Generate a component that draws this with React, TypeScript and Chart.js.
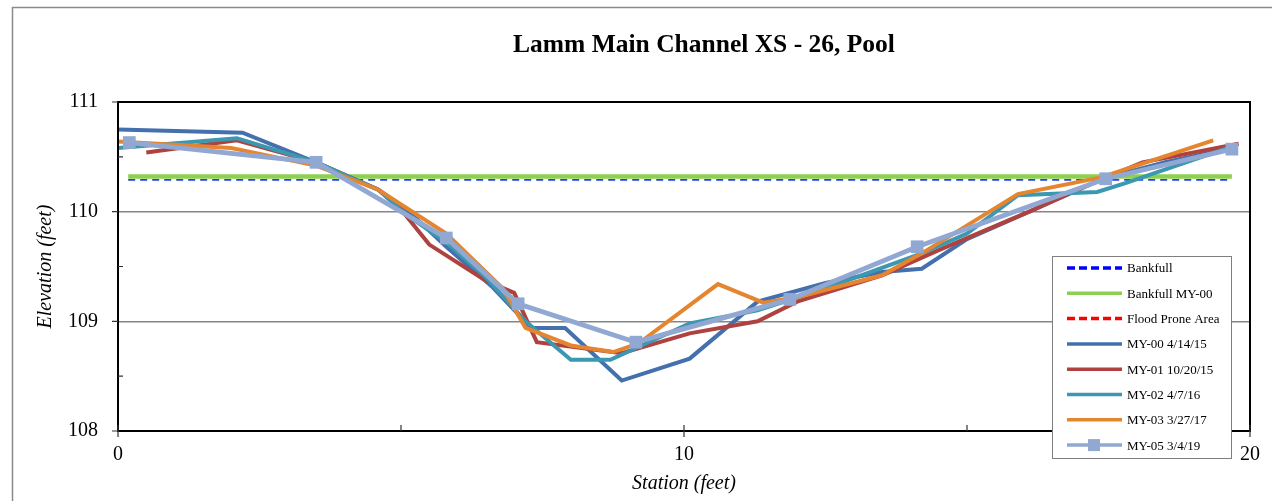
import React, { useEffect, useRef } from "react";
import { Chart, registerables } from "chart.js";

Chart.register(...registerables);

const chartTitle = "Lamm Main Channel XS - 26, Pool";
const xAxisTitle = "Station (feet)";
const yAxisTitle = "Elevation (feet)";
const xTickValues = [0, 10, 20];
const yTickValues = [108, 109, 110, 111];
const xMinorTicks = [5, 15];
const yMinorTicks = [108.5, 109.5, 110.5];

const seriesNames = [
  "Bankfull",
  "Bankfull MY-00",
  "Flood Prone Area",
  "MY-00 4/14/15",
  "MY-01 10/20/15",
  "MY-02 4/7/16",
  "MY-03 3/27/17",
  "MY-05 3/4/19",
];

const bankfullStation = [0.18, 19.68];
const bankfullElev = [110.29, 110.29];

const bankfullMy00Station = [0.18, 19.68];
const bankfullMy00Elev = [110.32, 110.32];

const floodStation: number[] = [];
const floodElev: number[] = [];

const my00Station = [0, 2.2, 3.5, 4.6, 5.1, 5.8, 6.6, 7.3, 7.9, 8.9, 10.1, 11.3, 12.5, 13.5, 14.2, 15.0, 16.1, 17.4, 18.5, 19.7];
const my00Elev = [110.75, 110.72, 110.45, 110.2, 110.02, 109.68, 109.32, 108.94, 108.94, 108.46, 108.66, 109.18, 109.35, 109.45, 109.48, 109.75, 110.0, 110.3, 110.45, 110.58];

const my01Station = [0.5, 2.1, 3.5, 4.6, 5.0, 5.5, 6.5, 7.0, 7.4, 8.9, 10.1, 11.3, 12.0, 13.5, 14.5, 16.1, 17.4, 18.1, 19.8];
const my01Elev = [110.54, 110.65, 110.45, 110.2, 110.02, 109.7, 109.37, 109.26, 108.81, 108.71, 108.89, 109.0, 109.18, 109.42, 109.65, 110.0, 110.3, 110.45, 110.62];

const my02Station = [0, 2.1, 3.5, 4.6, 5.1, 5.8, 6.5, 7.2, 8.0, 8.7, 10.1, 11.3, 12.5, 14.2, 15.0, 15.9, 17.3, 17.8, 19.6];
const my02Elev = [110.58, 110.67, 110.45, 110.2, 109.97, 109.72, 109.4, 109.0, 108.65, 108.65, 108.98, 109.1, 109.3, 109.62, 109.8, 110.15, 110.18, 110.26, 110.58];

const my03Station = [0, 2.0, 3.5, 4.6, 5.8, 6.8, 7.2, 8.0, 8.75, 9.2, 10.6, 11.4, 12.0, 13.5, 14.2, 15.9, 17.35, 19.35];
const my03Elev = [110.64, 110.58, 110.42, 110.2, 109.8, 109.3, 108.94, 108.78, 108.72, 108.8, 109.34, 109.17, 109.22, 109.42, 109.62, 110.16, 110.31, 110.65];

const my05Station = [0.2, 3.5, 5.8, 7.07, 9.15, 11.87, 14.12, 17.45, 19.68];
const my05Elev = [110.63, 110.45, 109.76, 109.16, 108.81, 109.2, 109.68, 110.3, 110.57];

const seriesColors = ["#2342EE", "#8DD04F", "#FF0000", "#4470AD", "#AF423F", "#3B98B0", "#E5852F", "#91A8D3"];
const seriesWidths = [1.8, 4.5, 2, 4, 4, 4, 4, 4.8];
const seriesDashes: number[][] = [[7, 5], [], [7, 5], [], [], [], [], []];

const FONT = '"Liberation Serif", "Times New Roman", Times, serif';

function toPoints(xs: number[], ys: number[]) {
  return xs.map((x, i) => ({ x, y: ys[i] }));
}

const seriesData = [
  toPoints(bankfullStation, bankfullElev),
  toPoints(bankfullMy00Station, bankfullMy00Elev),
  toPoints(floodStation, floodElev),
  toPoints(my00Station, my00Elev),
  toPoints(my01Station, my01Elev),
  toPoints(my02Station, my02Elev),
  toPoints(my03Station, my03Elev),
  toPoints(my05Station, my05Elev),
];

const decorPlugin = {
  id: "decor",
  beforeDraw(chart: any) {
    const { ctx, width, height } = chart;
    ctx.save();
    ctx.fillStyle = "#ffffff";
    ctx.fillRect(0, 0, width, height);
    ctx.strokeStyle = "#8a8a8a";
    ctx.lineWidth = 1.5;
    ctx.strokeRect(12.5, 7.5, width + 40, height + 40);
    ctx.restore();
  },
  afterDraw(chart: any) {
    const { ctx, chartArea } = chart;
    const xs = chart.scales.x;
    const ys = chart.scales.y;
    ctx.save();
    ctx.strokeStyle = "#000000";
    ctx.lineWidth = 2;
    ctx.strokeRect(chartArea.left, chartArea.top, chartArea.right - chartArea.left, chartArea.bottom - chartArea.top);
    ctx.lineWidth = 1.2;
    ctx.strokeStyle = "#333333";
    ctx.beginPath();
    yTickValues.forEach((v) => {
      const py = ys.getPixelForValue(v);
      ctx.moveTo(chartArea.left - 6, py);
      ctx.lineTo(chartArea.left, py);
    });
    yMinorTicks.forEach((v) => {
      const py = ys.getPixelForValue(v);
      ctx.moveTo(chartArea.left, py);
      ctx.lineTo(chartArea.left + 5, py);
    });
    xTickValues.forEach((v) => {
      const px = xs.getPixelForValue(v);
      ctx.moveTo(px, chartArea.bottom - 6);
      ctx.lineTo(px, chartArea.bottom + 6);
    });
    xMinorTicks.forEach((v) => {
      const px = xs.getPixelForValue(v);
      ctx.moveTo(px, chartArea.bottom - 6);
      ctx.lineTo(px, chartArea.bottom);
    });
    ctx.stroke();

    ctx.fillStyle = "#000000";
    ctx.font = `bold 25.5px ${FONT}`;
    ctx.textAlign = "center";
    ctx.textBaseline = "middle";
    ctx.fillText(chartTitle, 704, 45);

    const lx = 1052, ly = 256, lw = 179, lh = 202;
    ctx.fillStyle = "#ffffff";
    ctx.fillRect(lx, ly, lw, lh);
    ctx.strokeStyle = "#7f7f7f";
    ctx.lineWidth = 1;
    ctx.strokeRect(lx + 0.5, ly + 0.5, lw, lh);
    ctx.font = `13px ${FONT}`;
    ctx.textAlign = "left";
    ctx.textBaseline = "middle";
    seriesNames.forEach((name, i) => {
      const y = 268 + i * 25.3;
      ctx.save();
      ctx.strokeStyle = i === 0 ? "#0000FF" : seriesColors[i];
      ctx.lineWidth = 3.5;
      ctx.setLineDash(seriesDashes[i].length ? [8, 4] : []);
      ctx.beginPath();
      ctx.moveTo(1067, y);
      ctx.lineTo(1122, y);
      ctx.stroke();
      ctx.restore();
      if (i === seriesNames.length - 1) {
        ctx.fillStyle = seriesColors[i];
        ctx.fillRect(1088, y - 6, 12, 12);
      }
      ctx.fillStyle = "#000000";
      ctx.fillText(name, 1127, y + 1);
    });
    ctx.restore();
  },
};

export default function App() {
  const canvasRef = useRef<HTMLCanvasElement | null>(null);

  useEffect(() => {
    const canvas = canvasRef.current;
    if (!canvas) return;
    const n = seriesNames.length;
    const chart = new Chart(canvas, {
      type: "line",
      data: {
        datasets: seriesNames.map((name, i) => ({
          label: name,
          data: seriesData[i],
          borderColor: seriesColors[i],
          backgroundColor: seriesColors[i],
          borderWidth: seriesWidths[i],
          borderDash: seriesDashes[i],
          pointRadius: i === n - 1 ? 9 : 0,
          pointHoverRadius: i === n - 1 ? 9 : 0,
          pointStyle: "rect",
          pointBorderWidth: 0,
          pointBackgroundColor: seriesColors[i],
          tension: 0,
          fill: false,
          order: n - i,
        })),
      },
      options: {
        animation: false,
        responsive: false,
        maintainAspectRatio: false,
        layout: { padding: { top: 102, right: 22, left: 0, bottom: 0 } },
        plugins: {
          legend: { display: false },
          title: { display: false },
          tooltip: { enabled: false },
        },
        scales: {
          x: {
            type: "linear",
            min: 0,
            max: 20,
            afterBuildTicks: (s: any) => {
              s.ticks = xTickValues.map((v) => ({ value: v }));
            },
            afterFit: (s: any) => {
              s.height = 70;
            },
            ticks: {
              font: { family: FONT, size: 20 },
              color: "#000000",
              padding: 12,
              maxRotation: 0,
            },
            grid: { drawOnChartArea: false, drawTicks: false },
            border: { display: false },
            title: {
              display: true,
              text: xAxisTitle,
              color: "#000000",
              font: { family: FONT, size: 20, style: "italic" },
              padding: { top: 0, bottom: 5 },
            },
          },
          y: {
            type: "linear",
            min: 108,
            max: 111,
            afterBuildTicks: (s: any) => {
              s.ticks = yTickValues.map((v) => ({ value: v }));
            },
            afterFit: (s: any) => {
              s.width = 118;
            },
            ticks: {
              font: { family: FONT, size: 20 },
              color: "#000000",
              padding: 20,
            },
            grid: {
              drawTicks: false,
              lineWidth: 1.5,
              color: (c: any) =>
                c.tick && (c.tick.value === 109 || c.tick.value === 110) ? "#868686" : "rgba(0,0,0,0)",
            },
            border: { display: false },
            title: {
              display: true,
              text: yAxisTitle,
              color: "#000000",
              font: { family: FONT, size: 20, style: "italic" },
              padding: { top: 34, bottom: 0 },
            },
          },
        },
      },
      plugins: [decorPlugin],
    });
    return () => chart.destroy();
  }, []);

  return (
    <div style={{ position: "absolute", left: 0, top: 0, width: 1272, height: 501 }}>
      <canvas ref={canvasRef} width={1272} height={501} style={{ display: "block" }} />
    </div>
  );
}
